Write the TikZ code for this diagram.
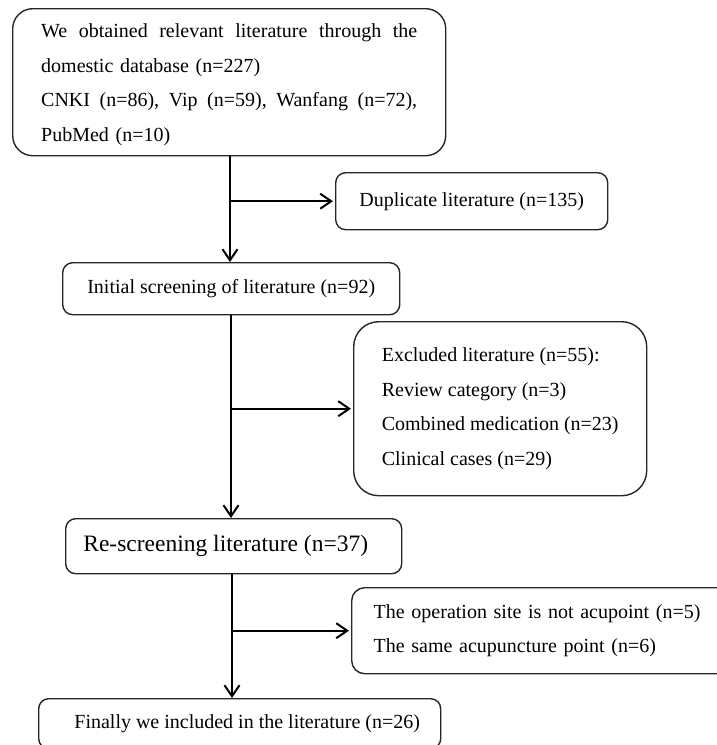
\documentclass[tikz,border=0pt]{standalone}
\usepackage{fontspec}
\setmainfont{Liberation Serif}
\usetikzlibrary{arrows.meta}
\begin{document}
\begin{tikzpicture}[x=1pt,y=-1pt,
  box/.style={draw=black!85, line width=1.4pt, rounded corners=10pt, anchor=north west,
    inner sep=0pt, font=\fontsize{20}{34}\selectfont},
  arr/.style={line width=2pt, -{Straight Barb[length=11pt,width=15pt]}}]
\clip (0,0) rectangle (717,745);
\node[box, rounded corners=20pt, minimum width=433pt, minimum height=147pt,
      text width=376pt, align=left, font=\fontsize{20}{34.7}\selectfont] (src) at (12,8)
  {\makebox[376pt][s]{\rule{0pt}{18.7pt}We\hfill obtained\hfill relevant\hfill literature\hfill through\hfill the}\\
   domestic database (n=227)\\
   \makebox[376pt][s]{CNKI\hfill (n=86),\hfill Vip\hfill (n=59),\hfill Wanfang\hfill (n=72),}\\
   PubMed (n=10)};
\node[box, minimum width=272pt, minimum height=57pt] (dup) at (335,172)
  {Duplicate literature (n=135)};
\node[box, minimum width=337pt, minimum height=52pt] (init) at (62,262)
  {Initial screening of literature (n=92)};
\node[box, rounded corners=25pt, minimum width=293pt, minimum height=174pt,
      align=left, font=\fontsize{20}{34.5}\selectfont] (excl) at (353,321)
  {Excluded literature (n=55):\\
   Review category (n=3)\\
   Combined medication (n=23)\\
   Clinical cases (n=29)};
\node[box, minimum width=336pt, minimum height=55pt, font=\fontsize{23.5}{28}\selectfont] (resc) at (65,518)
  {Re-screening literature (n=37)\hspace*{16pt}};
\node[box, rounded corners=13pt, minimum width=400pt, minimum height=86pt,
      text width=356pt, align=left] (op) at (351,587)
  {The operation site is not acupoint (n=5)\\
   The same acupuncture point (n=6)};
\node[box, minimum width=402pt, minimum height=50pt] (final) at (38,698)
  {\hspace*{15pt}Finally we included in the literature (n=26)};
\coordinate (l1) at (230,0);
\coordinate (l2) at (231,0);
\coordinate (l3) at (232,0);
\draw[arr] (src.south -| l1) -- (init.north -| l1);
\draw[arr, shorten >=2pt] (dup.west -| l1) -- (dup.west);
\draw[arr] (init.south -| l2) -- (resc.north -| l2);
\draw[arr, shorten >=2pt] (excl.west -| l2) -- (excl.west);
\draw[arr] (resc.south -| l3) -- (final.north -| l3);
\draw[arr, shorten >=2pt] (op.west -| l3) -- (op.west);
\end{tikzpicture}
\end{document}
